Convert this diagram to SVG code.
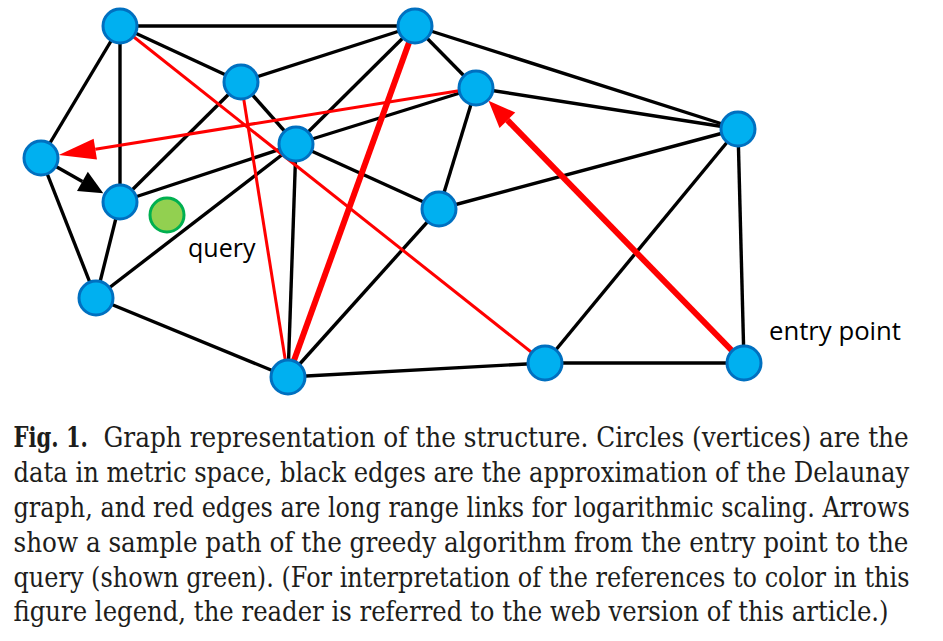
<svg xmlns="http://www.w3.org/2000/svg" width="943" height="641" viewBox="0 0 943 641">
<style>
.e{stroke:#000;stroke-width:3.4;fill:none}
.r{stroke:#FF0000;stroke-width:3;fill:none}
.rt{stroke:#FF0000;stroke-width:6;fill:none}
.n{fill:#00B0F0;stroke:#0070C0;stroke-width:3}
.q{fill:#92D050;stroke:#00B050;stroke-width:3}
.lbl{font-family:"Open Sans","Noto Sans","Liberation Sans",sans-serif;font-size:25px;fill:#000}
.cap{font-family:"DejaVu Serif","Liberation Serif",serif;font-size:28px;fill:#1d1d1b}
</style>
<defs>
<marker id="arrRedThin" markerUnits="userSpaceOnUse" markerWidth="38" markerHeight="22" refX="0" refY="10.5" orient="auto" overflow="visible">
<path d="M0,0 L37,10.5 L0,21 z" fill="#FF0000"/>
</marker>
<marker id="arrRedThick" markerUnits="userSpaceOnUse" markerWidth="28" markerHeight="23" refX="0" refY="11" orient="auto" overflow="visible">
<path d="M0,0 L27,11 L0,22 z" fill="#FF0000"/>
</marker>
<marker id="arrBlack" markerUnits="userSpaceOnUse" markerWidth="25" markerHeight="23" refX="0" refY="11" orient="auto" overflow="visible">
<path d="M0,0 L24,11 L0,22 z" fill="#000"/>
</marker>
</defs>
<g id="connectors">
<line class="e" x1="120" y1="26" x2="415" y2="26"/>
<line class="e" x1="120" y1="26" x2="241" y2="82"/>
<line class="e" x1="120" y1="26" x2="41" y2="158"/>
<line class="e" x1="120" y1="26" x2="120" y2="202"/>
<line class="e" x1="415" y1="26" x2="241" y2="82"/>
<line class="e" x1="415" y1="26" x2="296" y2="144"/>
<line class="e" x1="415" y1="26" x2="476" y2="88"/>
<line class="e" x1="415" y1="26" x2="738" y2="129"/>
<line class="e" x1="241" y1="82" x2="120" y2="202"/>
<line class="e" x1="241" y1="82" x2="296" y2="144"/>
<line class="e" x1="41" y1="158" x2="96" y2="298"/>
<line class="e" x1="120" y1="202" x2="296" y2="144"/>
<line class="e" x1="120" y1="202" x2="96" y2="298"/>
<line class="e" x1="96" y1="298" x2="296" y2="144"/>
<line class="e" x1="96" y1="298" x2="288" y2="377"/>
<line class="e" x1="296" y1="144" x2="288" y2="377"/>
<line class="e" x1="296" y1="144" x2="439" y2="209"/>
<line class="e" x1="296" y1="144" x2="476" y2="88"/>
<line class="e" x1="476" y1="88" x2="439" y2="209"/>
<line class="e" x1="476" y1="88" x2="738" y2="129"/>
<line class="e" x1="439" y1="209" x2="738" y2="129"/>
<line class="e" x1="439" y1="209" x2="288" y2="377"/>
<line class="e" x1="288" y1="377" x2="545" y2="363"/>
<line class="e" x1="545" y1="363" x2="738" y2="129"/>
<line class="e" x1="545" y1="363" x2="744" y2="363"/>
<line class="e" x1="738" y1="129" x2="744" y2="363"/>
<line class="e" x1="41" y1="158" x2="82.4" y2="181.4" marker-end="url(#arrBlack)"/>
<line class="r" x1="120" y1="26" x2="545" y2="363"/>
<line class="r" x1="241" y1="82" x2="288" y2="377"/>
<line class="rt" x1="415" y1="26" x2="288" y2="377"/>
<line class="r" x1="476" y1="88" x2="95.3" y2="149.2" marker-end="url(#arrRedThin)"/>
<line class="rt" x1="744" y1="363" x2="507.4" y2="120.2" marker-end="url(#arrRedThick)"/>
</g>
<g id="node-A"><circle class="n" cx="120" cy="26" r="17"/></g>
<g id="node-B"><circle class="n" cx="415" cy="26" r="17"/></g>
<g id="node-C"><circle class="n" cx="241" cy="82" r="17"/></g>
<g id="node-D"><circle class="n" cx="476" cy="88" r="17"/></g>
<g id="node-E"><circle class="n" cx="738" cy="129" r="17"/></g>
<g id="node-F"><circle class="n" cx="41" cy="158" r="17"/></g>
<g id="node-G"><circle class="n" cx="296" cy="144" r="17"/></g>
<g id="node-H"><circle class="n" cx="120" cy="202" r="17"/></g>
<g id="node-I"><circle class="n" cx="439" cy="209" r="17"/></g>
<g id="node-J"><circle class="n" cx="96" cy="298" r="17"/></g>
<g id="node-K"><circle class="n" cx="288" cy="377" r="17"/></g>
<g id="node-L"><circle class="n" cx="545" cy="363" r="17"/></g>
<g id="node-M"><circle class="n" cx="744" cy="363" r="17"/></g>
<g id="node-query"><circle class="q" cx="167" cy="215" r="17"/></g>
<text class="lbl" x="188" y="257">query</text>
<text class="lbl" x="769" y="340" textLength="132" lengthAdjust="spacingAndGlyphs">entry point</text>
<g id="caption" class="cap">
<text transform="translate(13.5 446.5) scale(0.8 1)" font-weight="bold" textLength="93" lengthAdjust="spacingAndGlyphs">Fig. 1.</text>
<text transform="translate(103.5 446.5) scale(0.82 1)" textLength="982" lengthAdjust="spacingAndGlyphs">Graph representation of the structure. Circles (vertices) are the</text>
<text transform="translate(13.5 481.5) scale(0.867 1)" textLength="1033" lengthAdjust="spacingAndGlyphs">data in metric space, black edges are the approximation of the Delaunay</text>
<text transform="translate(13.5 516.5) scale(0.856 1)" textLength="1047" lengthAdjust="spacingAndGlyphs">graph, and red edges are long range links for logarithmic scaling. Arrows</text>
<text transform="translate(13.5 551.5) scale(0.89 1)" textLength="1005.6" lengthAdjust="spacingAndGlyphs">show a sample path of the greedy algorithm from the entry point to the</text>
<text transform="translate(13.5 586.5) scale(0.833 1)" textLength="1075.6" lengthAdjust="spacingAndGlyphs">query (shown green). (For interpretation of the references to color in this</text>
<text transform="translate(13.5 621) scale(0.824 1)" textLength="1062" lengthAdjust="spacingAndGlyphs">figure legend, the reader is referred to the web version of this article.)</text>
</g>
</svg>
